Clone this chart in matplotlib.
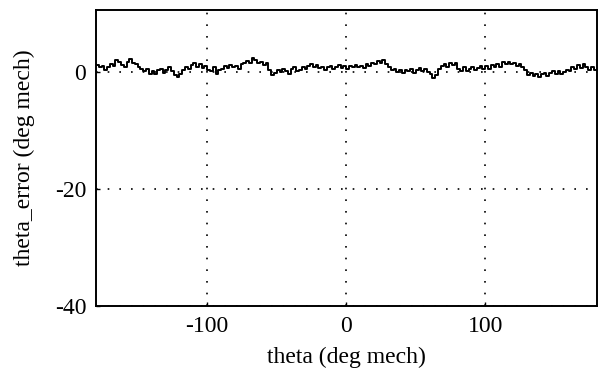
import numpy as np
import matplotlib
matplotlib.use('Agg')
import matplotlib.pyplot as plt

# theta in 2 deg steps, error values
theta = np.arange(-180, 181, 2)
theta_error = [
    1.2, 0.8, 1.0, 0.4, 0.9, 1.4, 1.1, 2.0, 1.7, 1.2,
    0.9, 1.8, 2.2, 1.6, 1.4, 0.9, 0.5, 0.2, 0.6, -0.3,
    0.1, -0.4, 0.3, 0.6, -0.2, 0.4, 0.9, 0.2, -0.5, -0.8,
    -0.4, 0.3, 0.8, 0.5, 1.2, 1.5, 0.9, 1.3, 0.7, 1.0,
    0.4,
    0.1, 0.8, -0.3, 0.4, 0.6, 1.0, 0.7, 1.2, 0.9, 1.1,
    0.6, 1.3, 1.6, 1.9, 1.5, 2.4, 2.1, 1.6, 1.8, 1.2,
    1.5, 0.4, -0.5, -0.2, 0.3, 0.0, 0.6, 0.2, -0.3, 0.5,
    0.8, 0.1, 0.4, 0.9, 0.6, 1.1, 1.4, 0.8, 1.2, 0.7,
    0.9, 0.3, 0.8, 1.1, 0.5, 0.9, 1.2, 0.7, 1.0,
    0.6, 1.1, 0.8, 1.2, 0.9, 1.0, 0.7, 1.3, 1.1, 1.6,
    1.4, 1.9, 1.5, 2.1, 1.4, 0.8, 0.3, 0.6, 0.0, 0.4,
    -0.2, 0.3, 0.1, 0.5, -0.1, 0.4, 0.7, 0.2, 0.6, 0.0,
    -0.4, -1.0, -0.5, 0.6, 1.0, 1.4, 0.9, 1.6, 1.2, 1.5,
    0.6, 0.2, 0.8, 0.1, 0.5, 0.9, 0.4, 0.7, 1.1, 0.6,
    1.0, 0.5, 1.2, 0.8, 1.3, 0.9, 1.7, 1.4, 1.8, 1.3,
    1.6, 1.1, 1.4, 0.9, 0.3, -0.5, -0.2, -0.7, -0.3, -0.8,
    -0.4, -0.1, -0.6, -0.2, 0.2, -0.3, 0.1, -0.4, 0.0, 0.4,
    0.1, 0.8, 0.5, 1.2, 0.7, 1.4, 0.9, 0.4, 0.8, 0.3,
    0.6,
]

x_ticks = [-100, 0, 100]
y_ticks = [-40, -20, 0]

plt.rcParams['font.family'] = ['Liberation Serif', 'DejaVu Serif']
plt.rcParams['axes.unicode_minus'] = False

fig = plt.figure(figsize=(5.98, 3.72), dpi=100)
ax = fig.add_axes([0.1605, 0.177, 0.837, 0.796])

ax.plot(theta, theta_error, color='black', linewidth=1.4, drawstyle='steps-post')

ax.set_xlim(-180, 180)
ax.set_ylim(-40, 10.6)
ax.set_xticks(x_ticks)
ax.set_yticks(y_ticks)
ax.grid(True, color='black', linestyle=(0, (1, 6)), linewidth=1.2)

ax.tick_params(direction='in', length=3, width=1, labelsize=17, pad=7)
for s in ax.spines.values():
    s.set_linewidth(1.4)

ax.set_xlabel('theta (deg mech)', fontsize=17, labelpad=7)
ax.set_ylabel('theta_error (deg mech)', fontsize=17, labelpad=14)

fig.savefig('out.png', dpi=100)
